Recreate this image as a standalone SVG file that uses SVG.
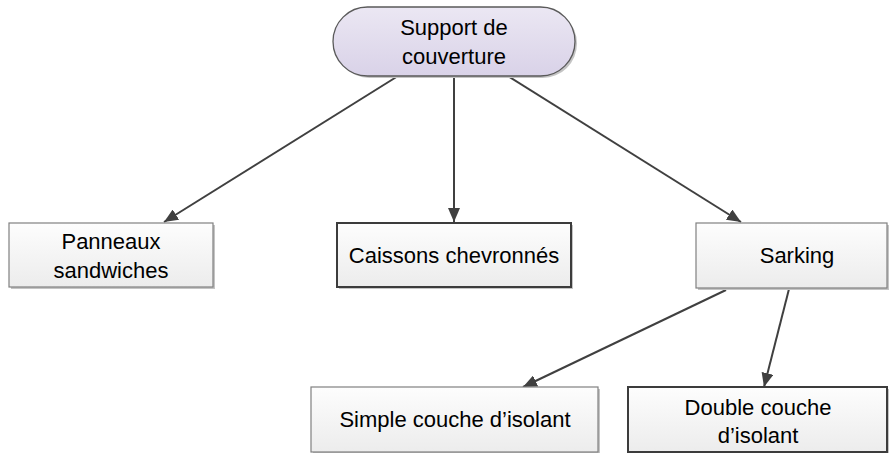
<svg xmlns="http://www.w3.org/2000/svg" width="889" height="453" viewBox="0 0 889 453">
<defs>
<linearGradient id="gPill" x1="0" y1="0" x2="0" y2="1">
<stop offset="0" stop-color="#ebe7f3"/>
<stop offset="1" stop-color="#d9d2e8"/>
</linearGradient>
<linearGradient id="gBox" x1="0" y1="0" x2="0" y2="1">
<stop offset="0" stop-color="#fdfdfd"/>
<stop offset="1" stop-color="#ececec"/>
</linearGradient>
<marker id="ah" viewBox="0 0 14 12" refX="14" refY="6" markerWidth="14" markerHeight="12" markerUnits="userSpaceOnUse" orient="auto">
<path d="M0,0 L14,6 L0,12 Z" fill="#404040"/>
</marker>
</defs>
<style>
text{font-family:"Liberation Sans",Arial,sans-serif;font-size:22px;fill:#000;text-anchor:middle}
.shadow{fill:#c4c4c4}
.box{fill:url(#gBox);stroke:#808080;stroke-width:1.2}
.dark{fill:url(#gBox);stroke:#3c3c3c;stroke-width:2}
.pill{fill:url(#gPill);stroke:#5a5a5a;stroke-width:1.3}
.conn{stroke:#404040;stroke-width:2;fill:none;marker-end:url(#ah)}
</style>
<rect width="889" height="453" fill="#ffffff"/>
<g id="connectors">
<line class="conn" x1="398" y1="76" x2="164" y2="222"/>
<line class="conn" x1="454" y1="76" x2="454" y2="222"/>
<line class="conn" x1="508" y1="76" x2="741" y2="222"/>
<line class="conn" x1="726" y1="290" x2="523" y2="387"/>
<line class="conn" x1="789" y1="289" x2="764" y2="387"/>
</g>
<g id="node-support">
<rect class="shadow" x="335" y="9" width="242" height="69" rx="34.5"/>
<rect class="pill" x="333" y="7" width="242" height="69" rx="34.5"/>
<text x="454" y="35">Support de</text>
<text x="454" y="64">couverture</text>
</g>
<g id="node-panneaux">
<rect class="shadow" x="11" y="225" width="204" height="64"/>
<rect class="box" x="9" y="223" width="204" height="64"/>
<text x="111" y="249">Panneaux</text>
<text x="111" y="278">sandwiches</text>
</g>
<g id="node-caissons">
<rect class="shadow" x="339" y="225" width="234" height="64"/>
<rect class="dark" x="337" y="223" width="234" height="64"/>
<text x="454" y="263">Caissons chevronnés</text>
</g>
<g id="node-sarking">
<rect class="shadow" x="698" y="225" width="191" height="65"/>
<rect class="box" x="696" y="223" width="191" height="65"/>
<text x="797" y="263">Sarking</text>
</g>
<g id="node-simple">
<rect class="shadow" x="313" y="389" width="287" height="65"/>
<rect class="box" x="311" y="387" width="287" height="65"/>
<text x="455" y="427">Simple couche d’isolant</text>
</g>
<g id="node-double">
<rect class="shadow" x="630" y="389" width="259" height="65"/>
<rect class="dark" x="628" y="387" width="259" height="65"/>
<text x="758" y="415">Double couche</text>
<text x="758" y="443">d’isolant</text>
</g>
</svg>
